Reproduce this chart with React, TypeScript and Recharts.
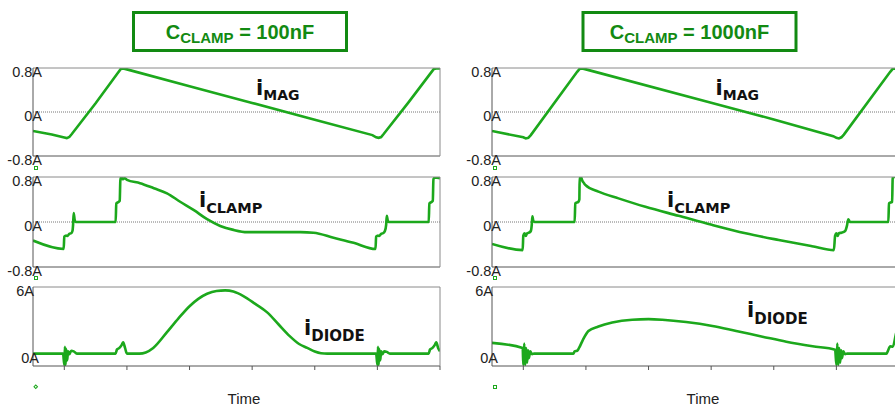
import React from 'react';
import { LineChart, Line, XAxis, YAxis, ReferenceLine } from 'recharts';

type Pt = [number, number];

const timeTicks = [0, 1, 2, 3, 4, 5, 6];
const currentTicks = [-0.8, 0, 0.8];
const diodeTicks = [0, 6];
const columnTitles = ['100nF', '1000nF'];
const axisTitle = 'Time';

const iMag100: Pt[] = [
  [-0.5, -0.345], [-0.2, -0.41], [0.0, -0.465], [0.04, -0.475], [0.08, -0.455], [0.12, -0.4],
  [0.5, 0.16], [0.86, 0.72], [0.9, 0.78], [0.94, 0.79], [1.0, 0.775], [2.0, 0.47], [3.0, 0.165],
  [4.0, -0.14], [4.92, -0.42], [4.98, -0.46], [5.02, -0.47], [5.06, -0.455], [5.1, -0.4],
  [5.5, 0.18], [5.86, 0.72], [5.9, 0.78], [5.94, 0.79], [6.0, 0.79],
];

const iMag1000: Pt[] = [
  [-0.5, -0.345], [0.0, -0.46], [0.04, -0.48], [0.08, -0.47], [0.12, -0.42], [0.86, 0.73],
  [0.9, 0.785], [0.94, 0.79], [1.0, 0.775], [3.0, 0.17], [4.0, -0.135], [4.95, -0.44],
  [5.0, -0.47], [5.04, -0.48], [5.08, -0.46], [5.12, -0.41], [5.86, 0.73], [5.9, 0.785],
  [5.94, 0.79], [6.0, 0.79],
];

const iClamp100: Pt[] = [
  [-0.5, -0.33], [-0.01, -0.48], [0.0, -0.26], [0.03, -0.24], [0.05, -0.25], [0.08, -0.21],
  [0.11, -0.2], [0.13, -0.16], [0.14, -0.05], [0.15, 0.16], [0.165, 0.04], [0.18, 0.0],
  [0.82, 0.0], [0.83, 0.33], [0.87, 0.36], [0.885, 0.38], [0.895, 0.74], [0.91, 0.8],
  [0.93, 0.76], [0.96, 0.78], [1.0, 0.75], [1.21, 0.69], [1.43, 0.6], [1.64, 0.51],
  [1.85, 0.36], [2.07, 0.21], [2.28, 0.05], [2.49, -0.07], [2.7, -0.14], [2.92, -0.18],
  [3.3, -0.18], [3.77, -0.18], [3.98, -0.19], [4.3, -0.28], [4.62, -0.37], [4.97, -0.48],
  [4.98, -0.26], [5.01, -0.24], [5.03, -0.25], [5.06, -0.21], [5.09, -0.2], [5.12, -0.16],
  [5.14, -0.05], [5.15, 0.11], [5.165, 0.03], [5.18, 0.0], [5.82, 0.0], [5.83, 0.33],
  [5.87, 0.36], [5.885, 0.38], [5.895, 0.76], [5.92, 0.79], [6.0, 0.78],
];

const iClamp1000: Pt[] = [
  [-0.5, -0.39], [-0.01, -0.5], [0.0, -0.24], [0.02, -0.2], [0.04, -0.25], [0.06, -0.2],
  [0.09, -0.19], [0.12, -0.16], [0.135, -0.05], [0.145, 0.1], [0.16, 0.02], [0.18, 0.0],
  [0.82, 0.0], [0.83, 0.33], [0.88, 0.36], [0.895, 0.4], [0.9, 0.8], [0.92, 0.8],
  [0.94, 0.74], [0.97, 0.69], [0.99, 0.66], [1.2, 0.54], [1.52, 0.42], [1.95, 0.27],
  [2.48, 0.11], [3.01, -0.05], [3.55, -0.2], [4.08, -0.32], [4.61, -0.43], [4.96, -0.5],
  [4.98, -0.24], [5.0, -0.2], [5.02, -0.25], [5.04, -0.2], [5.08, -0.19], [5.14, -0.16],
  [5.17, -0.06], [5.19, 0.05], [5.21, 0.01], [5.23, 0.0], [5.83, 0.0], [5.84, 0.33],
  [5.89, 0.36], [5.9, 0.8], [6.0, 0.8],
];

const iDiode100: Pt[] = [
  [-0.5, 0.1], [-0.02, 0.1], [0.0, -0.9], [0.01, 0.7], [0.02, -0.9], [0.03, 0.5], [0.045, -0.5],
  [0.06, 0.3], [0.08, 0.05], [0.11, 0.35], [0.15, 0.3], [0.2, 0.1], [0.82, 0.1], [0.84, 0.45],
  [0.88, 0.6], [0.92, 0.9], [0.94, 1.1], [0.97, 0.6], [1.0, 0.1], [1.2, 0.1], [1.3, 0.2],
  [1.42, 0.6], [1.64, 2.0], [1.82, 3.2], [2.0, 4.3], [2.14, 4.95], [2.28, 5.4], [2.43, 5.65],
  [2.57, 5.7], [2.7, 5.6], [2.86, 5.2], [3.05, 4.5], [3.24, 3.75], [3.42, 2.7], [3.6, 1.65],
  [3.75, 0.95], [3.88, 0.6], [4.0, 0.28], [4.1, 0.13], [4.2, 0.1], [4.98, 0.1], [5.0, -0.9],
  [5.01, 0.7], [5.02, -0.9], [5.03, 0.5], [5.045, -0.5], [5.06, 0.3], [5.08, 0.05], [5.11, 0.3],
  [5.15, 0.25], [5.2, 0.1], [5.82, 0.1], [5.84, 0.45], [5.88, 0.6], [5.92, 0.9], [5.94, 1.1],
  [5.97, 0.6], [6.0, 0.3],
];

const iDiode1000: Pt[] = [
  [-0.5, 1.05], [-0.01, 0.6], [0.0, -0.9], [0.015, 1.0], [0.03, -0.9], [0.045, 0.6], [0.06, -0.7],
  [0.075, 0.4], [0.09, -0.3], [0.11, 0.3], [0.14, 0.05], [0.17, 0.1], [0.8, 0.1], [0.82, 0.3],
  [0.86, 0.35], [0.89, 0.6], [0.95, 1.3], [1.04, 2.1], [1.2, 2.5], [1.42, 2.85], [1.74, 3.1],
  [2.0, 3.15], [2.22, 3.1], [2.6, 2.9], [3.02, 2.55], [3.4, 2.1], [3.82, 1.6], [4.2, 1.15],
  [4.62, 0.75], [4.98, 0.45], [5.0, -0.9], [5.015, 1.0], [5.03, -0.9], [5.045, 0.6], [5.06, -0.7],
  [5.075, 0.4], [5.09, -0.3], [5.11, 0.3], [5.14, 0.05], [5.17, 0.1], [5.8, 0.1], [5.82, 0.3],
  [5.86, 0.75], [5.9, 0.7], [5.95, 1.8], [6.0, 3.0],
];

const GREEN = '#1ca81c';
const TITLE_GREEN = '#128a12';
const PL = 33; // plot left inside each chart svg
const PW = 407;
const MT = 10;
const MB = 10;
const MR = 10;

const fmtA = (v: number) => (v === 0 ? '0A' : `${v}A`);

type PanelProps = {
  data: Pt[];
  left: number;
  plotTop: number;
  plotH: number;
  domain: [number, number];
  ticks: number[];
  zeroLine: boolean;
  showTime: boolean;
  curve: 'linear' | 'monotoneX';
  labelOffset: (v: number) => number;
};

const Panel = ({ data, left, plotTop, plotH, domain, ticks, zeroLine, showTime, curve, labelOffset }: PanelProps) => {
  const rows = data.map(([t, v]) => ({ t, v }));
  const tickRenderer = (props: any) => {
    const v = props.payload.value;
    return (
      <text
        x={PL + labelOffset(v)}
        y={props.y + 8.5}
        textAnchor="end"
        fontSize={14.5}
        fontFamily="'Liberation Sans', Arial, sans-serif"
        fill="#222"
      >
        {fmtA(v)}
      </text>
    );
  };
  return (
    <div style={{ position: 'absolute', left, top: plotTop - MT }}>
      <LineChart
        width={PL + PW + MR}
        height={MT + plotH + MB}
        data={rows}
        margin={{ top: MT - 1, right: MR - 1, bottom: MB - 1, left: PL - 1 }}
      >
        <XAxis
          xAxisId="b"
          dataKey="t"
          type="number"
          domain={[-0.5, 6]}
          ticks={timeTicks}
          interval={0}
          allowDataOverflow
          height={1}
          axisLine={{ stroke: '#555', strokeWidth: 1 }}
          tickLine={showTime ? { stroke: '#555', strokeWidth: 1 } : false}
          tickSize={4}
          tick={showTime ? () => <g /> : false}
        />
        <XAxis
          xAxisId="top"
          orientation="top"
          dataKey="t"
          type="number"
          domain={[-0.5, 6]}
          allowDataOverflow
          height={1}
          axisLine={{ stroke: '#8a8a8a', strokeWidth: 1 }}
          tickLine={false}
          tick={false}
        />
        <YAxis
          yAxisId="l"
          type="number"
          domain={domain}
          ticks={ticks}
          interval={0}
          allowDataOverflow
          width={1}
          axisLine={{ stroke: '#555', strokeWidth: 1 }}
          tickLine={false}
          tick={tickRenderer}
        />
        <YAxis
          yAxisId="r"
          orientation="right"
          type="number"
          domain={domain}
          allowDataOverflow
          width={1}
          axisLine={{ stroke: '#8a8a8a', strokeWidth: 1 }}
          tickLine={false}
          tick={false}
        />
        {zeroLine && (
          <ReferenceLine xAxisId="b" yAxisId="l" y={0} stroke="#777" strokeDasharray="1 1" strokeWidth={1} />
        )}
        <Line
          xAxisId="b"
          yAxisId="l"
          dataKey="v"
          type={curve}
          stroke={GREEN}
          strokeWidth={2.6}
          dot={false}
          activeDot={false}
          isAnimationActive={false}
        />
      </LineChart>
    </div>
  );
};

const curOff = () => 9;
const diodeOff = (v: number) => (v === 0 ? 6 : 1);

const Label = ({ x, y, main, sub, subSize, dy }: { x: number; y: number; main: string; sub: string; subSize: number; dy: number }) => (
  <text x={x} y={y} fontFamily="'DejaVu Sans', Verdana, sans-serif" fontWeight="bold" fontSize={21} fill="#111">
    {main}
    <tspan fontSize={subSize} dy={dy}>{sub}</tspan>
  </text>
);

const Title = ({ cx, boxX, boxW, value }: { cx: number; boxX: number; boxW: number; value: string }) => (
  <g>
    <rect x={boxX} y={12.5} width={boxW} height={38} fill="none" stroke={TITLE_GREEN} strokeWidth={3} />
    <text x={cx} y={39.3} textAnchor="middle" fontFamily="'Liberation Sans', Arial, sans-serif" fontWeight="bold" fontSize={20} fill={TITLE_GREEN}>
      C<tspan fontSize={15} dy={4}>CLAMP</tspan>
      <tspan dy={-4}>{` = ${value}`}</tspan>
    </text>
  </g>
);

export default function App() {
  const cols = [
    { x: 0, mag: iMag100, clamp: iClamp100, diode: iDiode100 },
    { x: 459, mag: iMag1000, clamp: iClamp1000, diode: iDiode1000 },
  ];
  return (
    <div style={{ position: 'absolute', left: 0, top: 0, width: 895, height: 407, overflow: 'hidden', background: '#fff' }}>
      {cols.map((c, i) => (
        <React.Fragment key={i}>
          <Panel data={c.mag} left={c.x} plotTop={68} plotH={88} domain={[-0.8, 0.8]} ticks={currentTicks} zeroLine showTime={false} curve="linear" labelOffset={curOff} />
          <Panel data={c.clamp} left={c.x} plotTop={177} plotH={90} domain={[-0.8, 0.8]} ticks={currentTicks} zeroLine showTime={false} curve="monotoneX" labelOffset={curOff} />
          <Panel data={c.diode} left={c.x} plotTop={287} plotH={79} domain={[-1, 6]} ticks={diodeTicks} zeroLine={false} showTime curve="monotoneX" labelOffset={diodeOff} />
        </React.Fragment>
      ))}
      <svg width={895} height={407} style={{ position: 'absolute', left: 0, top: 0, pointerEvents: 'none' }}>
        <Title cx={240} boxX={133.5} boxW={213} value={columnTitles[0]} />
        <Title cx={689.5} boxX={583} boxW={213} value={columnTitles[1]} />

        <Label x={256} y={94.5} main="i" sub="MAG" subSize={14} dy={5.5} />
        <Label x={199} y={206.7} main="i" sub="CLAMP" subSize={14.5} dy={6} />
        <Label x={304} y={335} main="i" sub="DIODE" subSize={15} dy={6} />
        <Label x={715.5} y={94.5} main="i" sub="MAG" subSize={14} dy={5.5} />
        <Label x={667} y={206.7} main="i" sub="CLAMP" subSize={14.5} dy={6} />
        <Label x={747} y={317.3} main="i" sub="DIODE" subSize={15} dy={6.5} />

        <text x={244} y={404} textAnchor="middle" fontFamily="'Liberation Sans', Arial, sans-serif" fontSize={15} fill="#222">{axisTitle}</text>
        <text x={703} y={404} textAnchor="middle" fontFamily="'Liberation Sans', Arial, sans-serif" fontSize={15} fill="#222">{axisTitle}</text>

        <rect x={34.5} y={166.5} width={3} height={3} fill="#fff" stroke={GREEN} strokeWidth={1} />
        <rect x={34.5} y={276.5} width={3} height={3} fill="#fff" stroke={GREEN} strokeWidth={1} />
        <rect x={34.5} y={385.5} width={2.5} height={2.5} fill="#fff" stroke={GREEN} strokeWidth={1} transform="rotate(45 35.75 386.75)" />
        <rect x={493.5} y={166.5} width={3} height={3} fill="#fff" stroke={GREEN} strokeWidth={1} />
        <rect x={493.5} y={276.5} width={3} height={3} fill="#fff" stroke={GREEN} strokeWidth={1} />
        <rect x={493.5} y={385.5} width={3} height={3} fill="#fff" stroke={GREEN} strokeWidth={1} />
      </svg>
    </div>
  );
}
